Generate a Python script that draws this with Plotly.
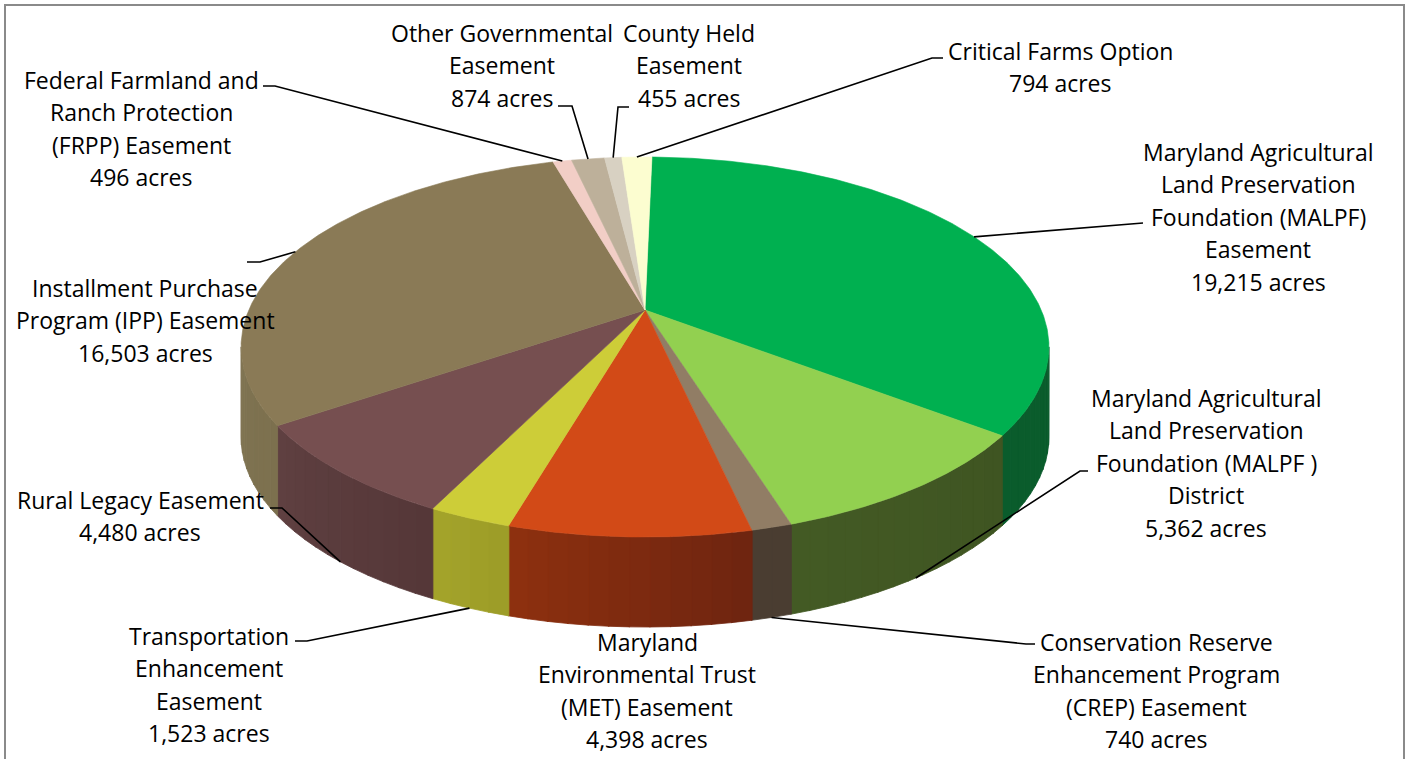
import numpy as np
import plotly.graph_objects as go

# ---------------- data ----------------
categories = [
    "MALPF Easement", "MALPF District", "CREP Easement", "MET Easement",
    "Transportation Enhancement Easement", "Rural Legacy Easement", "IPP Easement",
    "FRPP Easement", "Other Governmental Easement", "County Held Easement",
    "Critical Farms Option",
]
acres = [19215, 5362, 740, 4398, 1523, 4480, 16503, 496, 874, 455, 794]
label_lines = [
    ["Maryland Agricultural", "Land Preservation", "Foundation (MALPF)", "Easement", "19,215 acres"],
    ["Maryland Agricultural", "Land Preservation", "Foundation (MALPF )", "District", "5,362 acres"],
    ["Conservation Reserve", "Enhancement Program", "(CREP) Easement", "740 acres"],
    ["Maryland", "Environmental Trust", "(MET) Easement", "4,398 acres"],
    ["Transportation", "Enhancement", "Easement", "1,523 acres"],
    ["Rural Legacy Easement", "4,480 acres"],
    ["Installment Purchase", "Program (IPP) Easement", "16,503 acres"],
    ["Federal Farmland and", "Ranch Protection", "(FRPP) Easement", "496 acres"],
    ["Other Governmental", "Easement", "874 acres"],
    ["County Held", "Easement", "455 acres"],
    ["Critical Farms Option", "794 acres"],
]

# ---------------- styles / layout positions ----------------
top_colors = ["#00B050", "#92D050", "#917D65", "#D24A17", "#CDCD38", "#764F50",
              "#8A7A56", "#F2CEC6", "#BDB09A", "#D8D1C2", "#FCFDD0"]
side_right = ["#0A5C2C", "#3F5522", "#4A3D31", "#6E2510", "#9C9C27", "#553738",
              "#7C704E", "#C9ABA4", "#9C917E", "#B3AC9F", "#D2D3AA"]
side_left = ["#0A5C2C", "#435A24", "#4A3D31", "#8E300F", "#A4A42B", "#5F4041",
             "#8E8262", "#C9ABA4", "#9C917E", "#B3AC9F", "#D2D3AA"]
label_cx = [1258, 1206, 1156, 647, 209, 140, 145, 141, 502, 689, 1060]
label_y0 = [152, 398, 642, 642, 636, 500, 288, 80, 33, 33, 51]
LINE_H = 32.4
FONT = dict(family="Open Sans", size=23, color="black")
leader_mode = ["top", "bottom", "bottom", None, "bottom", "bottom", "top", "top", "top", "top", "top"]
leader_elbows = [
    [(1143, 223)],
    [(1088, 471), (1080, 471)],
    [(1035, 644), (1026, 644)],
    [],
    [(295, 641), (307, 641)],
    [(270, 508), (282, 508)],
    [(247, 262), (260, 262)],
    [(263, 86), (275, 86)],
    [(558, 106), (572, 106)],
    [(629, 107), (618, 107)],
    [(943, 58), (932, 58)],
]

W, H = 1408, 759
CX, CY = 645, 310          # pie apex on screen
A, B, E = 396.2, 182.8, 0.1948   # perspective ellipse parameters
DEPTH = 90
ROT = 1.2                  # first-slice angle offset (deg)


def proj(theta_deg, drop=0.0):
    t = np.radians(np.asarray(theta_deg, dtype=float))
    u = np.sin(t)
    v = -np.cos(t)
    den = 1 - E * v
    return CX + A * u / den, CY + B * v / den + drop


def hex2rgb(h):
    h = h.lstrip("#")
    return np.array([int(h[i:i + 2], 16) for i in (0, 2, 4)], dtype=float)


def mix(c1, c2, f):
    c = hex2rgb(c1) * (1 - f) + hex2rgb(c2) * f
    return "rgb(%d,%d,%d)" % tuple(np.clip(np.round(c), 0, 255))


total = float(sum(acres))
cum = np.concatenate([[0.0], np.cumsum(acres)]) / total * 360.0 + ROT

fig = go.Figure()

# ---- side walls (front, visible part) ----
vis0 = 90 + np.degrees(np.arcsin(E))
vis1 = 270 - np.degrees(np.arcsin(E))
for i in range(len(acres)):
    a0, a1 = max(cum[i], vis0), min(cum[i + 1], vis1)
    if a1 <= a0:
        continue
    n = max(1, int(np.ceil((a1 - a0) / 2.5)))
    edges = np.linspace(a0, a1, n + 1)
    for k in range(n):
        s0, s1 = edges[k], edges[k + 1]
        ts = np.linspace(s0 - 0.05, s1 + 0.05, 6)
        xt, yt = proj(ts)
        xb, yb = proj(ts[::-1], DEPTH)
        f = ((s0 + s1) / 2 - cum[i]) / max(cum[i + 1] - cum[i], 1e-9)
        col = mix(side_right[i], side_left[i], f)
        fig.add_trace(go.Scatter(
            x=np.concatenate([xt, xb, xt[:1]]), y=np.concatenate([yt, yb, yt[:1]]),
            mode="lines", fill="toself", fillcolor=col,
            line=dict(color=col, width=0.8), hoverinfo="skip", showlegend=False))

# ---- top faces ----
for i in range(len(acres)):
    ts = np.linspace(cum[i], cum[i + 1], max(4, int((cum[i + 1] - cum[i]) * 2)))
    xr, yr = proj(ts)
    xs = np.concatenate([[CX], xr, [CX]])
    ys = np.concatenate([[CY], yr, [CY]])
    fig.add_trace(go.Scatter(
        x=xs, y=ys, mode="lines", fill="toself", fillcolor=top_colors[i],
        line=dict(color=top_colors[i], width=0.6), name=categories[i],
        text="%s: %s acres" % (categories[i], f"{acres[i]:,}"), hoverinfo="text",
        hoveron="fills", showlegend=False))

# ---- leader lines ----
for i in range(len(acres)):
    if leader_mode[i] is None:
        continue
    mid = (cum[i] + cum[i + 1]) / 2
    ax, ay = proj(mid, DEPTH if leader_mode[i] == "bottom" else 0)
    pts = leader_elbows[i] + [(float(ax), float(ay))]
    fig.add_trace(go.Scatter(
        x=[p[0] for p in pts], y=[p[1] for p in pts], mode="lines",
        line=dict(color="black", width=1.6), hoverinfo="skip", showlegend=False))

# ---- labels ----
annotations = []
for i, lines in enumerate(label_lines):
    for j, txt in enumerate(lines):
        annotations.append(dict(
            x=label_cx[i], y=label_y0[i] + j * LINE_H, xref="x", yref="y",
            text=txt, showarrow=False, xanchor="center", yanchor="middle",
            font=FONT))

fig.update_layout(
    width=W, height=H, margin=dict(l=0, r=0, t=0, b=0),
    paper_bgcolor="white", plot_bgcolor="white",
    xaxis=dict(range=[0, W], visible=False, fixedrange=True),
    yaxis=dict(range=[H, 0], visible=False, fixedrange=True),
    annotations=annotations,
    shapes=[dict(type="rect", xref="x", yref="y", x0=5, y0=5, x1=1404, y1=800,
                 line=dict(color="#8A8A8A", width=2), layer="below")],
    showlegend=False,
)

fig.write_html("out.html")
